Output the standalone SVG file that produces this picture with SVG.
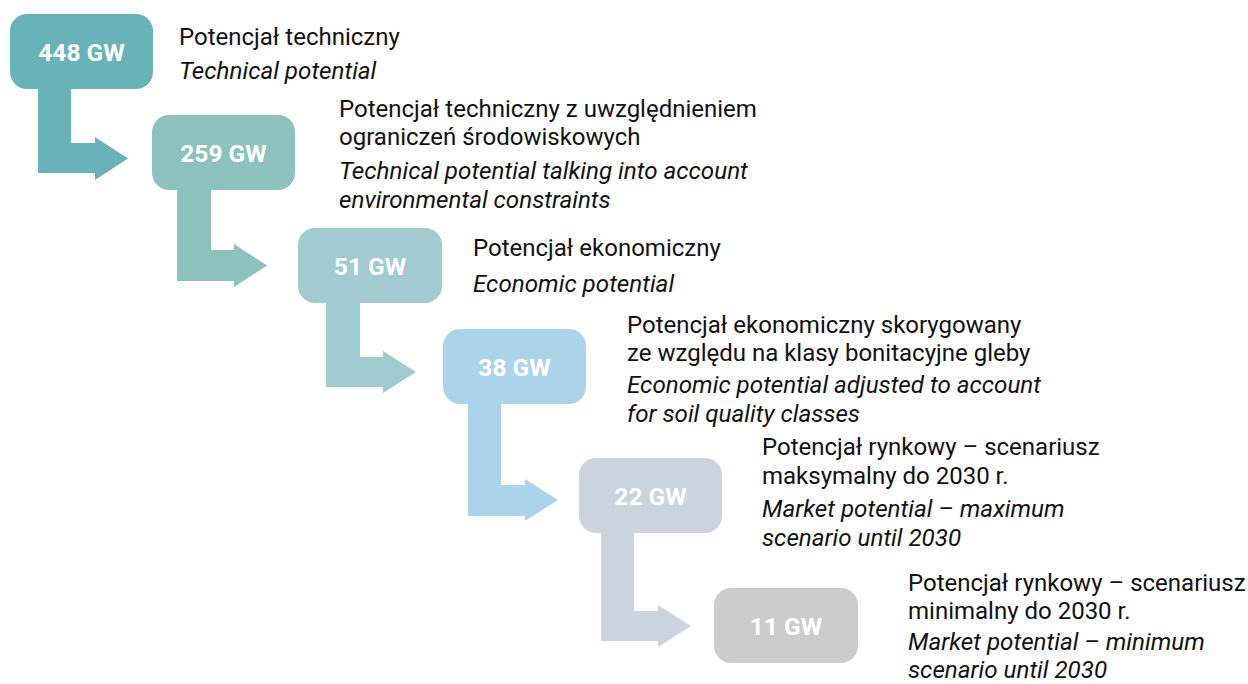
<svg xmlns="http://www.w3.org/2000/svg" width="1248" height="684" viewBox="0 0 1248 684">
  <style>
    .val { font-family: Roboto, "Liberation Sans", sans-serif; font-weight: 700; font-size: 24.5px; fill: #ffffff; text-anchor: middle; }
    .pl { font-family: Roboto, "Liberation Sans", sans-serif; font-size: 24px; fill: #111111; }
    .en { font-family: Roboto, "Liberation Sans", sans-serif; font-size: 24.2px; font-style: italic; fill: #111111; }
    .c1 { fill: #69b3b8; }
    .c2 { fill: #8dc1be; }
    .c3 { fill: #a1cbd0; }
    .c4 { fill: #abd3ea; }
    .c5 { fill: #c9d4df; }
    .c6 { fill: #cccccc; }
  </style>
  <rect width="1248" height="684" fill="#ffffff"/>
  <g id="connectors">
    <path class="c1" d="M38,85 L71,85 L71,143 L95,143 L95,137 L128,158.5 L95,180 L95,173 L38,173 Z"/>
    <path class="c2" d="M177,186 L211,186 L211,250 L234,250 L234,244 L267,265.5 L234,287 L234,281 L177,281 Z"/>
    <path class="c3" d="M326,299 L360,299 L360,357 L383,357 L383,351 L416,372 L383,393 L383,387 L326,387 Z"/>
    <path class="c4" d="M468,400 L501,400 L501,485 L525,485 L525,479 L558,500 L525,521 L525,516 L468,516 Z"/>
    <path class="c5" d="M601,529 L634,529 L634,611 L658,611 L658,605 L691,626 L658,647 L658,641 L601,641 Z"/>
  </g>
  <g id="node1">
    <rect class="c1" x="10" y="14" width="143" height="75" rx="17"/>
    <text class="val" x="81.5" y="60.5">448 GW</text>
    <text class="pl" x="179" y="45">Potencjał techniczny</text>
    <text class="en" x="179" y="79">Technical potential</text>
  </g>
  <g id="node2">
    <rect class="c2" x="152" y="115" width="143" height="75" rx="17"/>
    <text class="val" x="223.5" y="161.5">259 GW</text>
    <text class="pl" x="339" y="117">Potencjał techniczny z uwzględnieniem</text>
    <text class="pl" x="339" y="145">ograniczeń środowiskowych</text>
    <text class="en" x="339" y="179">Technical potential talking into account</text>
    <text class="en" x="339" y="208">environmental constraints</text>
  </g>
  <g id="node3">
    <rect class="c3" x="298" y="228" width="144" height="75" rx="17"/>
    <text class="val" x="370" y="274.5">51 GW</text>
    <text class="pl" x="473" y="256">Potencjał ekonomiczny</text>
    <text class="en" x="473" y="292">Economic potential</text>
  </g>
  <g id="node4">
    <rect class="c4" x="443" y="329" width="143" height="75" rx="17"/>
    <text class="val" x="514.5" y="375.5">38 GW</text>
    <text class="pl" x="627" y="333">Potencjał ekonomiczny skorygowany</text>
    <text class="pl" x="627" y="361">ze względu na klasy bonitacyjne gleby</text>
    <text class="en" x="627" y="393">Economic potential adjusted to account</text>
    <text class="en" x="627" y="422">for soil quality classes</text>
  </g>
  <g id="node5">
    <rect class="c5" x="579" y="458" width="143" height="75" rx="17"/>
    <text class="val" x="650.5" y="504.5">22 GW</text>
    <text class="pl" x="762" y="455">Potencjał rynkowy – scenariusz</text>
    <text class="pl" x="762" y="484">maksymalny do 2030 r.</text>
    <text class="en" x="762" y="517">Market potential – maximum</text>
    <text class="en" x="762" y="546">scenario until 2030</text>
  </g>
  <g id="node6">
    <rect class="c6" x="714" y="588" width="144" height="75" rx="17"/>
    <text class="val" x="786" y="634.5">11 GW</text>
    <text class="pl" x="908" y="591">Potencjał rynkowy – scenariusz</text>
    <text class="pl" x="908" y="619">minimalny do 2030 r.</text>
    <text class="en" x="908" y="650">Market potential – minimum</text>
    <text class="en" x="908" y="678">scenario until 2030</text>
  </g>
</svg>
